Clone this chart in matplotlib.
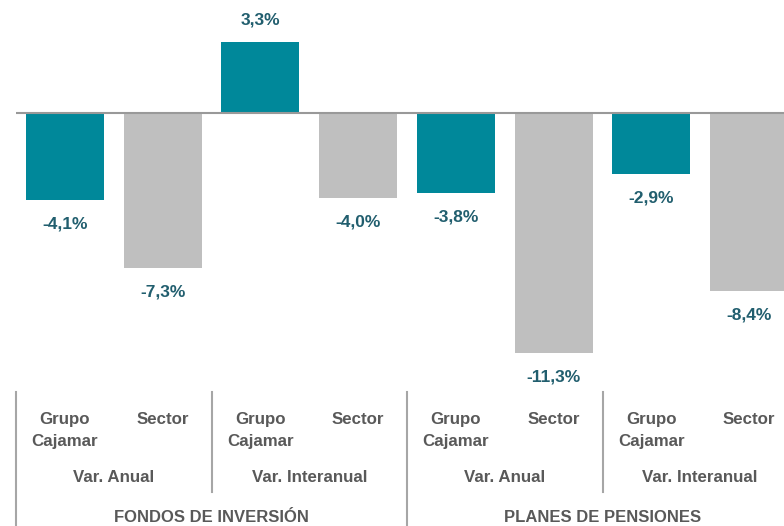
import matplotlib.pyplot as plt
import matplotlib.transforms as mtrans
import numpy as np

plt.rcParams['font.family'] = ['Liberation Sans Narrow', 'Liberation Sans', 'DejaVu Sans']

values = [-4.1, -7.3, 3.3, -4.0, -3.8, -11.3, -2.9, -8.4]
value_labels = ["-4,1%", "-7,3%", "3,3%", "-4,0%", "-3,8%", "-11,3%", "-2,9%", "-8,4%"]
entities = ["Grupo\nCajamar", "Sector"] * 4
periods = ["Var. Anual", "Var. Interanual", "Var. Anual", "Var. Interanual"]
products = ["FONDOS DE INVERSIÓN", "PLANES DE PENSIONES"]

teal = "#00889A"
grey = "#BFBFBF"
label_col = "#215E6E"
text_col = "#595959"
line_col = "#A6A6A6"

W, H = 784, 526
fig = plt.figure(figsize=(W / 100, H / 100), dpi=100)

# axes placed in pixels: x 16..798 (runs past the right edge), y 0..392 from top
ax = fig.add_axes([16 / W, (H - 392) / H, 782 / W, 392 / H])
px = 21.3  # pixels per percentage point
ax.set_ylim(-(392 - 112.5) / px, 112.5 / px)
ax.set_xlim(-0.5, 7.5)

x = np.arange(len(values))
colors = [teal if i % 2 == 0 else grey for i in range(len(values))]
ax.bar(x, values, width=0.8, color=colors, zorder=2)
ax.axhline(0, color="#999999", lw=1.5, zorder=3)

for xi, v, lab in zip(x, values, value_labels):
    off = 22 if v > 0 else -24
    ax.annotate(lab, (xi, v), xytext=(0, off * 0.72), textcoords="offset points",
                ha="center", va="center", fontsize=12.5, fontweight="bold",
                color=label_col)

for s in ax.spines.values():
    s.set_visible(False)
ax.set_xticks([])
ax.set_yticks([])

tr = mtrans.blended_transform_factory(ax.transData, fig.transFigure)


def fy(p):
    return 1 - p / H


for xi, name in zip(x, entities):
    ax.text(xi, fy(412), name, transform=tr, ha="center", va="top",
            fontsize=12.2, fontweight="bold", color=text_col,
            linespacing=1.6, clip_on=False)

for i, per in enumerate(periods):
    ax.text(2 * i + 0.5, fy(478), per, transform=tr, ha="center", va="center",
            fontsize=12.2, fontweight="bold", color=text_col, clip_on=False)

for i, prod in enumerate(products):
    ax.text(4 * i + 1.5, fy(517), prod, transform=tr, ha="center", va="center",
            fontsize=12, fontweight="bold", color=text_col, clip_on=False)

# separators of the category axis
for xs in [-0.5, 3.5, 7.5]:
    ax.plot([xs, xs], [fy(392), fy(H + 5)], transform=tr, color=line_col,
            lw=1.5, clip_on=False)
for xs in [1.5, 5.5]:
    ax.plot([xs, xs], [fy(392), fy(492)], transform=tr, color=line_col,
            lw=1.5, clip_on=False)

fig.savefig("out.png", dpi=100)
